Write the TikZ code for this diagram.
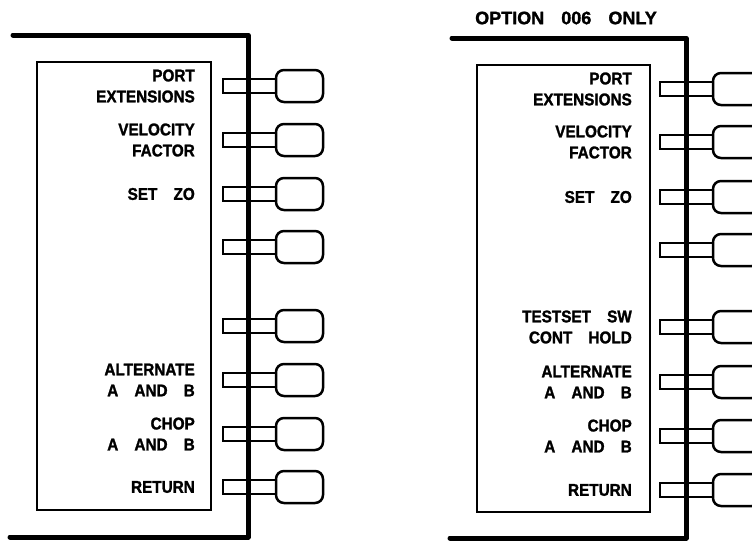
\documentclass[tikz,border=0pt]{standalone}
\usepackage{fontspec}
\setmainfont{Liberation Sans}
\newfontfamily\plotfont{Liberation Sans}[FakeStretch=0.9, BoldFeatures={FakeBold=1.5}]
\newfontfamily\headfont{Liberation Sans}[BoldFeatures={FakeBold=1.5}]
\newcommand\gp{\hspace{0.95em}}
\usetikzlibrary{positioning}

\begin{document}
\begin{tikzpicture}[x=1pt, y=-1pt,
  rail/.style={line width=5pt, line cap=round, line join=round},
  screen/.style={rectangle, draw=black, line width=2.4pt, inner sep=0pt, outer sep=0pt},
  softkey/.style={rectangle, draw=black, line width=2.5pt, rounded corners=8pt,
    minimum width=47pt, minimum height=32pt, inner sep=0pt, outer sep=0pt},
  stub/.style={rectangle, draw=black, line width=2.8pt,
    minimum width=53pt, minimum height=14pt, inner sep=0pt, outer sep=0pt},
  keylbl/.style={align=right, inner sep=0pt,
    font=\plotfont\bfseries\fontsize{17}{21}\selectfont},
  node distance=0pt and 28pt
]
  \clip (0,0) rectangle (752,542);

  % left menu
  \draw[rail] (13,35) -- (248,35) -- (248,537) -- (10,537);
  \node[screen, minimum width=174pt, minimum height=448pt] (lscr) at (124,286) {};
  \foreach \ky [count=\i] in {86,140,194,247,326,380,434,487} {
    \node[softkey] (lkey\i) at (299.5,\ky) {};
    \node[stub, left=0pt of lkey\i] (lstub\i) {};
  }
  \node[keylbl, left=of lstub1] (llbl1) {PORT\\EXTENSIONS};
  \node[keylbl, left=of lstub2] (llbl2) {VELOCITY\\FACTOR};
  \node[keylbl, left=of lstub3] (llbl3) {SET\gp ZO};
  \node[keylbl, left=of lstub6] (llbl6) {ALTERNATE\\A\gp AND\gp B};
  \node[keylbl, left=of lstub7] (llbl7) {CHOP\\A\gp AND\gp B};
  \node[keylbl, left=of lstub8] (llbl8) {RETURN};

  % right menu, option 006
  \node[inner sep=0pt, font=\headfont\bfseries\fontsize{18}{21}\selectfont]
    (opt) at (566,18) {OPTION\gp 006\gp ONLY};
  \draw[rail] (452,38) -- (686,38) -- (686,538) -- (450,538);
  \node[screen, minimum width=173pt, minimum height=447pt] (rscr) at (563.5,288.5) {};
  \foreach \ky [count=\i] in {89,142,197,250,327,382,436,490} {
    \node[softkey] (rkey\i) at (736.5,\ky) {};
    \node[stub, left=0pt of rkey\i] (rstub\i) {};
  }
  \node[keylbl, left=of rstub1] (rlbl1) {PORT\\EXTENSIONS};
  \node[keylbl, left=of rstub2] (rlbl2) {VELOCITY\\FACTOR};
  \node[keylbl, left=of rstub3] (rlbl3) {SET\gp ZO};
  \node[keylbl, left=of rstub5] (rlbl5) {TESTSET\gp SW\\CONT\gp HOLD};
  \node[keylbl, left=of rstub6] (rlbl6) {ALTERNATE\\A\gp AND\gp B};
  \node[keylbl, left=of rstub7] (rlbl7) {CHOP\\A\gp AND\gp B};
  \node[keylbl, left=of rstub8] (rlbl8) {RETURN};
\end{tikzpicture}
\end{document}
